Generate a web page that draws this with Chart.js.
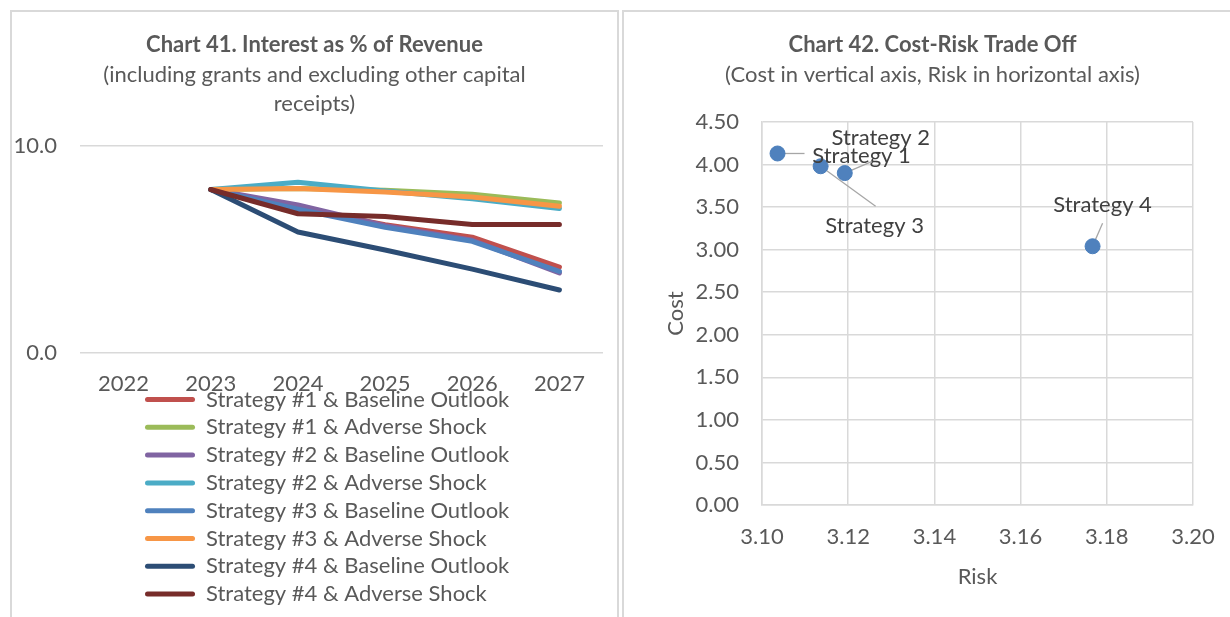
<!DOCTYPE html>
<html>
<head>
<meta charset="utf-8">
<script src="https://cdn.jsdelivr.net/npm/chart.js@4/dist/chart.umd.min.js"></script>
<style>
  html, body { margin: 0; padding: 0; background: #ffffff; overflow: hidden; width: 1230px; height: 617px; }
  .panel { position: absolute; top: 10px; border: 2px solid #d9d9d9; background: #fff; }
  #p1 { left: 10px; width: 605px; height: 620px; }
  #p2 { left: 622px; width: 617px; height: 620px; }
  canvas { display: block; }
</style>
</head>
<body>
<div class="panel" id="p1"><canvas id="c1" width="605" height="605"></canvas></div>
<div class="panel" id="p2"><canvas id="c2" width="617" height="605"></canvas></div>
<script>
// ---------- Chart 41 data ----------
const years = ['2022', '2023', '2024', '2025', '2026', '2027'];
const s1Baseline = [null, 7.9, 7.0, 6.2, 5.6, 4.15];
const s1Adverse  = [null, 7.9, 7.95, 7.86, 7.67, 7.25];
const s2Baseline = [null, 7.9, 7.15, 6.15, 5.45, 3.87];
const s2Adverse  = [null, 7.9, 8.25, 7.83, 7.45, 6.98];
const s3Baseline = [null, 7.9, 6.95, 6.08, 5.4, 3.95];
const s3Adverse  = [null, 7.9, 7.95, 7.78, 7.54, 7.09];
const s4Baseline = [null, 7.9, 5.85, 4.98, 4.06, 3.05];
const s4Adverse  = [null, 7.9, 6.73, 6.6, 6.21, 6.21];
const seriesNames = [
  'Strategy #1 & Baseline Outlook', 'Strategy #1 & Adverse Shock',
  'Strategy #2 & Baseline Outlook', 'Strategy #2 & Adverse Shock',
  'Strategy #3 & Baseline Outlook', 'Strategy #3 & Adverse Shock',
  'Strategy #4 & Baseline Outlook', 'Strategy #4 & Adverse Shock'
];
const seriesValues = [s1Baseline, s1Adverse, s2Baseline, s2Adverse, s3Baseline, s3Adverse, s4Baseline, s4Adverse];
const seriesColors = ['#C0504D', '#9BBB59', '#8064A2', '#4BACC6', '#4F81BD', '#F79646', '#2C4D75', '#772C2A'];
const yTicks41 = [0, 10];

// ---------- Chart 42 data ----------
const strategyNames = ['Strategy 1', 'Strategy 2', 'Strategy 3', 'Strategy 4'];
const riskValues = [3.1036, 3.1192, 3.1136, 3.1767];
const costValues = [4.13, 3.90, 3.98, 3.04];
// label placement (pixel offsets from the marker): [labelDx, labelDy, leaderDx, leaderDy]
const labelOffsets = [[84, 2, 27, 0], [36, -35, 28, -12], [54, 60, 55, 40], [10, -41, 10, -23]];

const FONT = 'Lato';
const FS = 22;
const TXT = '#595959';
const GRID = '#d9d9d9';

// keep title/subtitle centred over the whole canvas and place the legend
const boxPlace = {
  id: 'boxPlace',
  afterLayout(chart, args, opts) {
    chart.boxes.forEach(b => {
      if (b.position === 'top' && b.options && b.options.text !== undefined) {
        b.left = 0; b.right = chart.width; b.width = chart.width;
      }
    });
    const lg = chart.legend;
    if (lg && opts.legendTop !== undefined) {
      lg.top = opts.legendTop;
      lg.height = opts.legendHeight;
      lg.bottom = lg.top + lg.height;
      lg.left = opts.legendLeft;
    }
  }
};

// ---------- Chart 41 ----------
new Chart(document.getElementById('c1'), {
  type: 'line',
  data: {
    labels: years,
    datasets: seriesValues.map((vals, i) => ({
      label: seriesNames[i],
      data: vals,
      borderColor: seriesColors[i],
      backgroundColor: seriesColors[i],
      borderWidth: 5,
      pointRadius: 0,
      pointHoverRadius: 0,
      tension: 0,
      borderCapStyle: 'round',
      borderJoinStyle: 'round',
      order: seriesValues.length - i,
      fill: false
    }))
  },
  options: {
    responsive: false,
    animation: false,
    events: [],
    layout: { padding: { left: 0, right: 14, top: 0, bottom: 0 } },
    plugins: {
      title: {
        display: true,
        text: 'Chart 41. Interest as % of Revenue',
        color: TXT,
        font: { family: FONT, size: FS, weight: 'bold', lineHeight: 1.2 },
        padding: { top: 19.8, bottom: 0 }
      },
      subtitle: {
        display: true,
        text: ['(including grants and excluding other capital', 'receipts)'],
        color: TXT,
        font: { family: FONT, size: FS, lineHeight: 29 / FS },
        padding: { top: 2.3, bottom: 27.5 }
      },
      legend: {
        display: true,
        position: 'bottom',
        align: 'start',
        maxHeight: 201.8,
        labels: {
          color: TXT,
          font: { family: FONT, size: FS },
          boxWidth: 50,
          boxHeight: 5,
          padding: 5.8,
          sort: (a, b) => a.datasetIndex - b.datasetIndex,
          generateLabels: (chart) => Chart.defaults.plugins.legend.labels.generateLabels(chart)
            .map(l => Object.assign(l, { lineWidth: 0, borderRadius: 2.5 }))
        }
      },
      boxPlace: { legendTop: 370.7, legendLeft: 127.2, legendHeight: 260 },
      tooltip: { enabled: false }
    },
    scales: {
      x: {
        type: 'category',
        offset: true,
        grid: { display: false, drawTicks: false },
        border: { display: false },
        ticks: { color: TXT, font: { family: FONT, size: FS }, padding: 17.8, maxRotation: 0 }
      },
      y: {
        min: 0, max: 10,
        afterBuildTicks: (s) => { s.ticks = yTicks41.map(v => ({ value: v })); },
        grid: { color: GRID, lineWidth: 1.5, drawTicks: false },
        border: { display: false },
        ticks: { color: TXT, font: { family: FONT, size: FS }, padding: 23, callback: (v) => Number(v).toFixed(1) },
        afterFit: (s) => { s.width = 68; }
      }
    }
  },
  plugins: [boxPlace]
});

// ---------- Chart 42 ----------
const pointLabels = {
  id: 'pointLabels',
  beforeDatasetsDraw(chart) {
    const meta = chart.getDatasetMeta(0);
    const ctx = chart.ctx;
    ctx.save();
    ctx.strokeStyle = '#a6a6a6';
    ctx.lineWidth = 1.3;
    meta.data.forEach((pt, i) => {
      const o = labelOffsets[i];
      ctx.beginPath();
      ctx.moveTo(pt.x, pt.y);
      ctx.lineTo(pt.x + o[2], pt.y + o[3]);
      ctx.stroke();
    });
    ctx.restore();
  },
  afterDatasetsDraw(chart) {
    const meta = chart.getDatasetMeta(0);
    const ctx = chart.ctx;
    ctx.save();
    ctx.font = FS + 'px ' + FONT;
    ctx.fillStyle = '#404040';
    ctx.textAlign = 'center';
    ctx.textBaseline = 'middle';
    meta.data.forEach((pt, i) => {
      const o = labelOffsets[i];
      ctx.fillText(strategyNames[i], pt.x + o[0], pt.y + o[1]);
    });
    ctx.restore();
  }
};

new Chart(document.getElementById('c2'), {
  type: 'scatter',
  data: {
    datasets: [{
      label: 'Cost-Risk',
      data: riskValues.map((r, i) => ({ x: r, y: costValues[i] })),
      backgroundColor: '#4F81BD',
      borderColor: '#4A7EBB',
      borderWidth: 1,
      pointRadius: 7.5,
      pointHoverRadius: 7.5
    }]
  },
  options: {
    responsive: false,
    animation: false,
    events: [],
    layout: { padding: { left: 0, right: 48, top: 0, bottom: 0 } },
    plugins: {
      title: {
        display: true,
        text: 'Chart 42. Cost-Risk Trade Off',
        color: TXT,
        font: { family: FONT, size: FS, weight: 'bold', lineHeight: 1.2 },
        padding: { top: 19.8, bottom: 0 }
      },
      subtitle: {
        display: true,
        text: '(Cost in vertical axis, Risk in horizontal axis)',
        color: TXT,
        font: { family: FONT, size: FS, lineHeight: 29 / FS },
        padding: { top: 2.3, bottom: 32.5 }
      },
      legend: { display: false },
      boxPlace: {},
      tooltip: { enabled: false }
    },
    scales: {
      x: {
        type: 'linear',
        min: 3.10, max: 3.20,
        ticks: { stepSize: 0.02, color: TXT, font: { family: FONT, size: FS }, padding: 19,
                 callback: (v) => Number(v).toFixed(2) },
        grid: { color: GRID, lineWidth: 1.5, drawTicks: false },
        border: { color: GRID, width: 1.5 },
        title: { display: true, text: 'Risk', color: TXT, font: { family: FONT, size: FS, lineHeight: 1.2 },
                 padding: { top: 0, bottom: 27.1 } },
        afterFit: (s) => { s.height = 112; }
      },
      y: {
        type: 'linear',
        min: 0, max: 4.5,
        ticks: { stepSize: 0.5, color: TXT, font: { family: FONT, size: FS }, padding: 23,
                 callback: (v) => Number(v).toFixed(2) },
        grid: { color: GRID, lineWidth: 1.5, drawTicks: false },
        border: { color: GRID, width: 1.5 },
        title: { display: true, text: 'Cost', color: TXT, font: { family: FONT, size: FS, lineHeight: 1.2 },
                 padding: { top: 38.8, bottom: 0 } },
        afterFit: (s) => { s.width = 138; }
      }
    }
  },
  plugins: [pointLabels, boxPlace]
});
</script>
</body>
</html>
